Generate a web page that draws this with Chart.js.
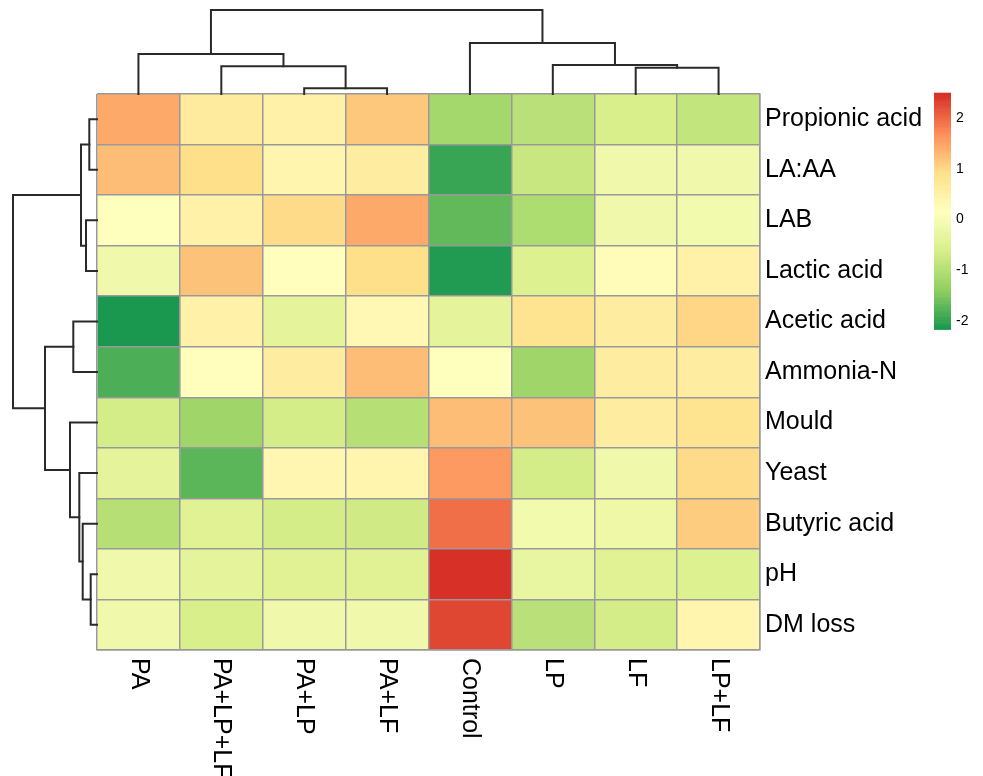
<!DOCTYPE html>
<html>
<head>
<meta charset="utf-8">
<script src="https://cdn.jsdelivr.net/npm/chart.js@4.4.1/dist/chart.umd.min.js"></script>
<style>
  html, body { margin: 0; padding: 0; background: #fff; }
  canvas { display: block; }
</style>
</head>
<body>
<canvas id="heat" width="983" height="776"></canvas>
<script>
// Silage traits (rows) by treatment (columns), row-scaled z-scores
const rows = ['Propionic acid', 'LA:AA', 'LAB', 'Lactic acid', 'Acetic acid', 'Ammonia-N',
              'Mould', 'Yeast', 'Butyric acid', 'pH', 'DM loss'];
const cols = ['PA', 'PA+LP+LF', 'PA+LP', 'PA+LF', 'Control', 'LP', 'LF', 'LP+LF'];

// one array per treatment, values listed in row order
const PA       = [ 1.45,  1.25,  0.15, -0.14, -2.17, -1.82, -0.66, -0.36, -1.00, -0.15, -0.15];
const PA_LP_LF = [ 0.65,  0.95,  0.50,  1.20,  0.50,  0.17, -1.20, -1.74, -0.48, -0.36, -0.61];
const PA_LP    = [ 0.50,  0.45,  1.00,  0.20, -0.36,  0.62, -0.66,  0.40, -0.64, -0.44, -0.15];
const PA_LF    = [ 1.17,  0.62,  1.45,  0.93,  0.35,  1.25, -1.00,  0.42, -0.70, -0.46, -0.14];
const Control  = [-1.15, -1.95, -1.69, -2.10, -0.38,  0.15,  1.25,  1.60,  1.96,  2.51,  2.30];
const LP       = [-0.94, -0.80, -1.06, -0.51,  0.85, -1.19,  1.20, -0.66, -0.08, -0.26, -0.91];
const LF       = [-0.61, -0.14, -0.13,  0.25,  0.60,  0.60,  0.62, -0.14, -0.18, -0.46, -0.64];
const LP_LF    = [-0.83, -0.15, -0.08,  0.50,  1.05,  0.62,  0.85,  0.97,  1.15, -0.52,  0.42];
const colValues = [PA, PA_LP_LF, PA_LP, PA_LF, Control, LP, LF, LP_LF];

// colour bar tick labels
const legendTicks = [2, 1, 0, -1, -2];

// hierarchical clustering results (hclust style: negative = leaf, positive = earlier merge)
const colMerge  = [[-3, -4], [-2, 1], [-1, 2], [-7, -8], [-6, 4], [-5, 5], [3, 6]];
const colHeight = [0.57, 2.77, 4.0, 2.63, 2.9, 5.1, 8.4];
const rowMerge  = [[-1, -2], [-3, -4], [1, 2], [-5, -6], [-10, -11], [-9, 5], [-8, 6], [-7, 7], [4, 8], [3, 9]];
const rowHeight = [0.77, 1.1, 1.6, 2.37, 0.63, 1.43, 1.77, 2.7, 5.2, 8.4];

// reversed RdYlGn ramp, 100 colours
const stops = ['#1A9850', '#91CF60', '#D9EF8B', '#FFFFBF', '#FEE08B', '#FC8D59', '#D73027'];
function hexRgb(h) { return [1, 3, 5].map(i => parseInt(h.substr(i, 2), 16)); }
const stopRgb = stops.map(hexRgb);
const palette = [];
for (let i = 0; i < 100; i++) {
  const t = i / 99 * (stops.length - 1);
  const s = Math.min(stops.length - 2, Math.floor(t));
  const f = t - s;
  const c = stopRgb[s].map((v, k) => Math.round(v + (stopRgb[s + 1][k] - v) * f));
  palette.push(`rgb(${c[0]},${c[1]},${c[2]})`);
}
const allVals = colValues.flat();
const vmin = Math.min(...allVals);
const vmax = Math.max(...allVals);
function colorFor(v) {
  const bin = Math.floor((v - vmin) / (vmax - vmin) * 100);
  return palette[Math.max(0, Math.min(99, bin))];
}

const FONT = '"Liberation Sans", Arial, Helvetica, sans-serif';

const datasets = cols.map((name, c) => ({
  label: name,
  data: rows.map(() => [c, c + 1]),
  backgroundColor: colValues[c].map(colorFor),
  borderWidth: 0,
  barPercentage: 1,
  categoryPercentage: 1,
  grouped: false
}));

function drawTree(ctx, merge, height, leafPos, base, vertical, unit) {
  const nodes = [];
  const get = r => (r < 0 ? { p: leafPos(-r - 1), h: 0 } : nodes[r - 1]);
  merge.forEach((m, i) => {
    const a = get(m[0]), b = get(m[1]), h = height[i];
    nodes.push({ p: (a.p + b.p) / 2, h });
    ctx.beginPath();
    if (vertical) {
      ctx.moveTo(a.p, base - a.h * unit);
      ctx.lineTo(a.p, base - h * unit);
      ctx.lineTo(b.p, base - h * unit);
      ctx.lineTo(b.p, base - b.h * unit);
    } else {
      ctx.moveTo(base - a.h * unit, a.p);
      ctx.lineTo(base - h * unit, a.p);
      ctx.lineTo(base - h * unit, b.p);
      ctx.lineTo(base - b.h * unit, b.p);
    }
    ctx.stroke();
  });
}

const decorations = {
  id: 'decorations',
  afterDraw(chart) {
    const { ctx, chartArea, scales } = chart;
    const xs = scales.x, ys = scales.y;
    ctx.save();

    // column labels, reading downward
    ctx.fillStyle = '#000';
    ctx.font = `25px ${FONT}`;
    ctx.textAlign = 'left';
    ctx.textBaseline = 'middle';
    cols.forEach((name, c) => {
      ctx.save();
      ctx.translate(xs.getPixelForValue(c + 0.5), chartArea.bottom + 8);
      ctx.rotate(Math.PI / 2);
      ctx.fillText(name, 0, 0);
      ctx.restore();
    });

    // dendrograms
    ctx.strokeStyle = '#2a2a2a';
    ctx.lineWidth = 2;
    ctx.lineJoin = 'miter';
    ctx.lineCap = 'square';
    const depth = 84;
    drawTree(ctx, colMerge, colHeight, i => xs.getPixelForValue(i + 0.5),
             chartArea.top, true, depth / Math.max(...colHeight));
    drawTree(ctx, rowMerge, rowHeight, i => ys.getPixelForValue(i),
             chartArea.left, false, depth / Math.max(...rowHeight));

    // colour bar
    const bx = 934, bw = 17, by = 92.7, bh = 236.6;
    const step = bh / palette.length;
    palette.forEach((col, i) => {
      ctx.fillStyle = col;
      ctx.fillRect(bx, by + bh - (i + 1) * step, bw, step + 0.6);
    });
    ctx.fillStyle = '#000';
    ctx.font = `14px ${FONT}`;
    ctx.textAlign = 'left';
    ctx.textBaseline = 'middle';
    legendTicks.forEach(v => {
      const y = by + (vmax - v) / (vmax - vmin) * bh;
      ctx.fillText(String(v), bx + bw + 5, y);
    });
    ctx.restore();
  }
};

new Chart(document.getElementById('heat'), {
  type: 'bar',
  data: { labels: rows, datasets },
  options: {
    responsive: false,
    animation: false,
    devicePixelRatio: 1,
    indexAxis: 'y',
    layout: { padding: { top: 94, left: 97, right: 0, bottom: 0 } },
    plugins: { legend: { display: false }, tooltip: { enabled: false } },
    scales: {
      x: {
        type: 'linear', min: 0, max: 8, position: 'bottom',
        ticks: { display: false, stepSize: 1 },
        grid: { color: '#999', lineWidth: 1.5, drawTicks: false, z: 1 },
        border: { display: true, color: '#999', width: 1.5, z: 1 },
        afterFit(s) { s.height = 126; }
      },
      y: {
        type: 'category', position: 'right', offset: true,
        ticks: { color: '#000', font: { family: FONT, size: 25 }, padding: 5 },
        grid: { color: '#999', lineWidth: 1.5, drawTicks: false, offset: true, z: 1 },
        border: { display: true, color: '#999', width: 1.5, z: 1 },
        afterFit(s) { s.width = 223; }
      }
    }
  },
  plugins: [decorations]
});
</script>
</body>
</html>
